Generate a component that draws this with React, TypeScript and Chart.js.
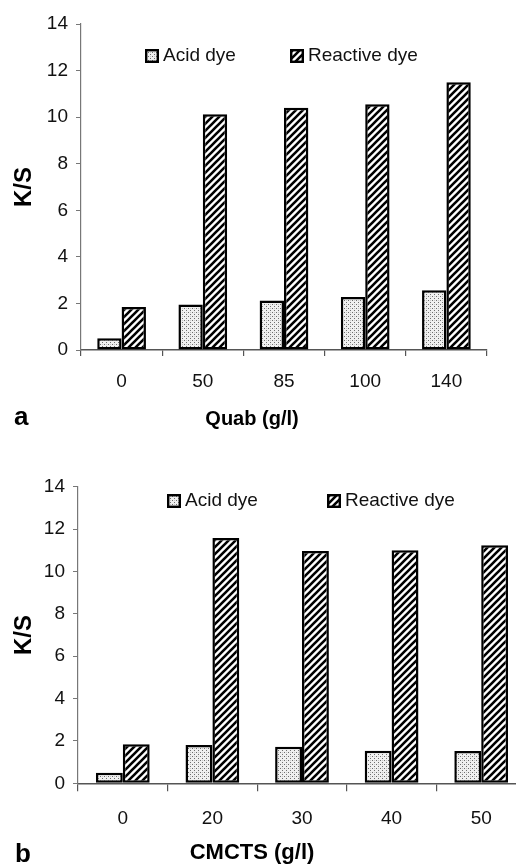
import React, { useEffect, useRef } from "react";
import { Chart, registerables } from "chart.js";

Chart.register(...registerables);

// ---------------- data ----------------
const SERIES_LABELS = ["Acid dye", "Reactive dye"];

const QUAB_CATEGORIES = ["0", "50", "85", "100", "140"];
const QUAB_ACID = [0.5, 1.95, 2.13, 2.28, 2.57];
const QUAB_REACTIVE = [1.85, 10.12, 10.4, 10.55, 11.5];

const CMCTS_CATEGORIES = ["0", "20", "30", "40", "50"];
const CMCTS_ACID = [0.5, 1.81, 1.73, 1.54, 1.52];
const CMCTS_REACTIVE = [1.84, 11.58, 10.96, 11.0, 11.24];

const Y_MIN = 0;
const Y_MAX = 14;
const Y_STEP = 2;
const Y_TITLE = "K/S";
const QUAB_TITLE = "Quab (g/l)";
const CMCTS_TITLE = "CMCTS (g/l)";
const PANEL_A = "a";
const PANEL_B = "b";

const FONT = "'Liberation Sans', Arial, Helvetica, sans-serif";

// ---------------- patterns ----------------
function makeDots(): CanvasPattern | string {
  const c = document.createElement("canvas");
  c.width = 4;
  c.height = 4;
  const g = c.getContext("2d");
  if (!g) return "#ddd";
  g.fillStyle = "#f0f0f0";
  g.fillRect(0, 0, 4, 4);
  g.fillStyle = "#6e6e6e";
  g.fillRect(0, 0, 1, 1);
  g.fillRect(2, 2, 1, 1);
  g.fillStyle = "#c8c8c8";
  g.fillRect(2, 0, 1, 1);
  return g.createPattern(c, "repeat") || "#ddd";
}

function makeHatch(): CanvasPattern | string {
  const s = 7;
  const c = document.createElement("canvas");
  c.width = s;
  c.height = s;
  const g = c.getContext("2d");
  if (!g) return "#555";
  g.fillStyle = "#fff";
  g.fillRect(0, 0, s, s);
  g.strokeStyle = "#000";
  g.lineWidth = 2.6;
  g.beginPath();
  g.moveTo(-1, s + 1);
  g.lineTo(s + 1, -1);
  g.moveTo(-2, 2);
  g.lineTo(2, -2);
  g.moveTo(s - 2, s + 2);
  g.lineTo(s + 2, s - 2);
  g.stroke();
  return g.createPattern(c, "repeat") || "#555";
}

// ---------------- inline legend plugin ----------------
const inlineLegend = {
  id: "inlineLegend",
  afterDraw(chart: any, _args: any, opts: any) {
    const ctx = chart.ctx as CanvasRenderingContext2D;
    const box = opts.box as number;
    ctx.save();
    ctx.font = `${opts.size}px ${FONT}`;
    ctx.textBaseline = "middle";
    ctx.textAlign = "left";
    chart.data.datasets.forEach((ds: any, i: number) => {
      const x = opts.xs[i];
      const y = opts.y;
      ctx.fillStyle = ds.backgroundColor;
      ctx.fillRect(x, y - box / 2, box, box);
      ctx.lineWidth = 2.4;
      ctx.strokeStyle = "#000";
      ctx.strokeRect(x + 1.2, y - box / 2 + 1.2, box - 2.4, box - 2.4);
      ctx.fillStyle = "#111";
      ctx.fillText(ds.label, x + box + 4, y);
    });
    ctx.restore();
  },
};

type PanelProps = {
  top: number;
  width: number;
  height: number;
  categories: string[];
  acid: number[];
  reactive: number[];
  padTop: number;
  padRight: number;
  yWidth: number;
  xHeight: number;
  xTickLen: number;
  xTickPad: number;
  legendXs: number[];
  legendY: number;
};

function BarPanel(p: PanelProps) {
  const ref = useRef<HTMLCanvasElement | null>(null);

  useEffect(() => {
    if (!ref.current) return;
    const dots = makeDots();
    const hatch = makeHatch();
    const chart = new Chart(ref.current, {
      type: "bar",
      data: {
        labels: p.categories,
        datasets: [
          {
            label: SERIES_LABELS[0],
            data: p.acid,
            backgroundColor: dots as any,
            borderColor: "#000",
            borderWidth: 2.5,
            borderSkipped: false,
            categoryPercentage: 0.6,
            barPercentage: 1.0,
          },
          {
            label: SERIES_LABELS[1],
            data: p.reactive,
            backgroundColor: hatch as any,
            borderColor: "#000",
            borderWidth: 2.5,
            borderSkipped: false,
            categoryPercentage: 0.6,
            barPercentage: 1.0,
          },
        ],
      },
      options: {
        responsive: false,
        animation: false,
        devicePixelRatio: 1,
        layout: {
          padding: { top: p.padTop, right: p.padRight, bottom: 0, left: 0 },
        },
        plugins: {
          legend: { display: false },
          tooltip: { enabled: false },
          inlineLegend: { xs: p.legendXs, y: p.legendY, box: 14, size: 19 },
        } as any,
        scales: {
          x: {
            grid: {
              display: true,
              drawOnChartArea: false,
              drawTicks: true,
              tickLength: p.xTickLen,
              color: "#555",
              lineWidth: 1.2,
            },
            border: { display: true, color: "#555", width: 1.5 },
            ticks: {
              color: "#111",
              font: { family: FONT, size: 19 },
              padding: p.xTickPad,
            },
            afterFit: (s: any) => {
              s.height = p.xHeight;
            },
          },
          y: {
            min: Y_MIN,
            max: Y_MAX,
            ticks: {
              stepSize: Y_STEP,
              color: "#111",
              font: { family: FONT, size: 19 },
              padding: 8,
            },
            grid: {
              display: true,
              drawOnChartArea: false,
              drawTicks: true,
              tickLength: 5,
              color: "#777",
              lineWidth: 1,
            },
            border: { display: true, color: "#777", width: 1.2 },
            title: {
              display: true,
              text: Y_TITLE,
              color: "#000",
              font: { family: FONT, size: 24, weight: "bold" },
              padding: { top: 10, bottom: 0 },
            },
            afterFit: (s: any) => {
              s.width = p.yWidth;
            },
          },
        },
      },
      plugins: [inlineLegend as any],
    });
    return () => chart.destroy();
  }, []);

  return (
    <canvas
      ref={ref}
      width={p.width}
      height={p.height}
      style={{
        position: "absolute",
        left: 0,
        top: p.top,
        width: p.width,
        height: p.height,
        display: "block",
      }}
    />
  );
}

const textBase: React.CSSProperties = {
  position: "absolute",
  fontFamily: FONT,
  fontWeight: "bold",
  color: "#000",
  lineHeight: 1,
  whiteSpace: "nowrap",
};

export default function App() {
  return (
    <div
      style={{
        position: "absolute",
        left: 0,
        top: 0,
        width: 516,
        height: 867,
        overflow: "hidden",
        background: "#fff",
      }}
    >
      <BarPanel
        top={0}
        width={516}
        height={440}
        categories={QUAB_CATEGORIES}
        acid={QUAB_ACID}
        reactive={QUAB_REACTIVE}
        padTop={24}
        padRight={29}
        yWidth={81}
        xHeight={90}
        xTickLen={6}
        xTickPad={14}
        legendXs={[145, 290]}
        legendY={56}
      />
      <BarPanel
        top={440}
        width={540}
        height={427}
        categories={CMCTS_CATEGORIES}
        acid={CMCTS_ACID}
        reactive={CMCTS_REACTIVE}
        padTop={46.7}
        padRight={14}
        yWidth={78}
        xHeight={83.7}
        xTickLen={8}
        xTickPad={16}
        legendXs={[167, 327]}
        legendY={61}
      />
      <div style={{ ...textBase, fontSize: 26, left: 14, top: 416, transform: "translateY(-50%)" }}>
        {PANEL_A}
      </div>
      <div
        style={{ ...textBase, fontSize: 20, left: 252, top: 418, transform: "translate(-50%,-50%)" }}
      >
        {QUAB_TITLE}
      </div>
      <div style={{ ...textBase, fontSize: 26, left: 15, top: 853, transform: "translateY(-50%)" }}>
        {PANEL_B}
      </div>
      <div
        style={{ ...textBase, fontSize: 22, left: 252, top: 851.5, transform: "translate(-50%,-50%)" }}
      >
        {CMCTS_TITLE}
      </div>
    </div>
  );
}
